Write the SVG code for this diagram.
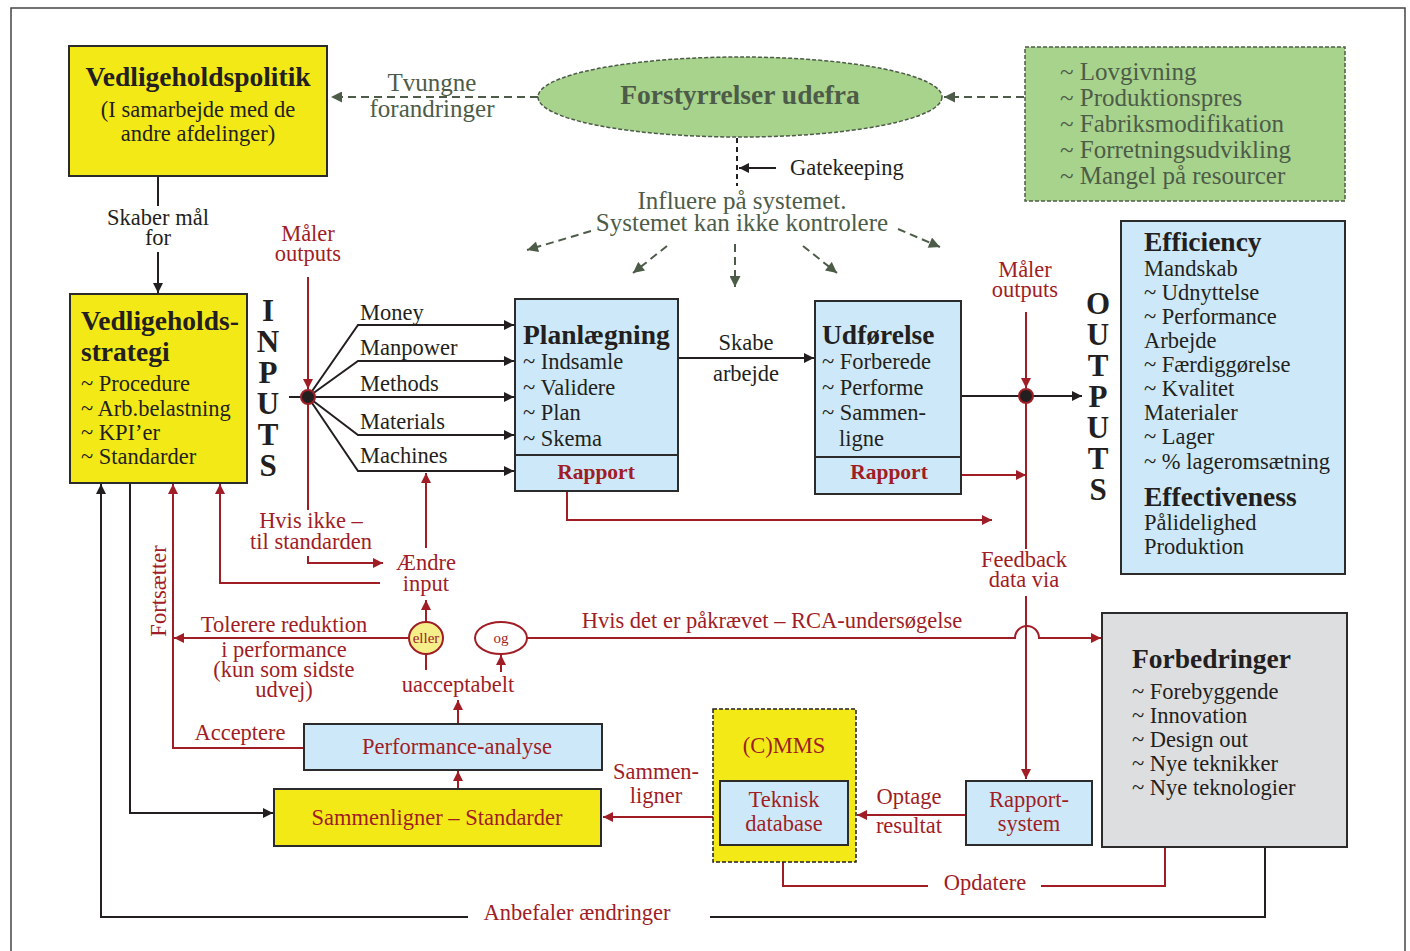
<svg xmlns="http://www.w3.org/2000/svg" width="1410" height="951" viewBox="0 0 1410 951">
<defs>
<style>
text{font-family:"Liberation Serif","Times New Roman",serif;}
.t{fill:#231f20;font-size:22.5px;}
.b{fill:#231f20;font-size:27.5px;font-weight:bold;}
.r{fill:#a01d26;font-size:22.5px;}
.rb{fill:#a01d26;font-size:21.5px;font-weight:bold;}
.g{fill:#4d5c48;font-size:25px;}
.big{fill:#231f20;font-size:31px;font-weight:bold;}
.c{text-anchor:middle;}
.bw{font-size:27.5px;font-weight:bold;}
.box{stroke:#2b2b2b;stroke-width:2;}
.yl{fill:#f2e916;}
.bl{fill:#cde9f9;}
.gr{fill:#a8d38d;}
.gy{fill:#dddee0;}
.ln{fill:none;stroke:#231f20;stroke-width:2;}
.rl{fill:none;stroke:#a01d26;stroke-width:2;}
.gl{fill:none;stroke:#4d5c48;stroke-width:2;stroke-dasharray:8 5;}
</style>
<marker id="ab" viewBox="0 0 10 10" refX="10" refY="5" markerWidth="11" markerHeight="10" markerUnits="userSpaceOnUse" orient="auto"><path d="M0,0 L10,5 L0,10 z" fill="#231f20"/></marker>
<marker id="ar" viewBox="0 0 10 10" refX="10" refY="5" markerWidth="11" markerHeight="10" markerUnits="userSpaceOnUse" orient="auto"><path d="M0,0 L10,5 L0,10 z" fill="#a01d26"/></marker>
<marker id="ag" viewBox="0 0 10 10" refX="10" refY="5" markerWidth="12" markerHeight="11" markerUnits="userSpaceOnUse" orient="auto"><path d="M0,0 L10,5 L0,10 z" fill="#4d5c48"/></marker>
</defs>
<rect width="1410" height="951" fill="#ffffff"/>
<path d="M11,960 V8 H1405 V960" fill="none" stroke="#444" stroke-width="1.5"/>

<g id="connectors">
<path class="gl" d="M538,97 H331" marker-end="url(#ag)"/>
<path class="gl" d="M1024,97 H944" marker-end="url(#ag)"/>
<path d="M737,138 V186" fill="none" stroke="#231f20" stroke-width="2" stroke-dasharray="5 4"/>
<path class="ln" d="M776,168 H739" marker-end="url(#ab)"/>
<path class="gl" d="M591,231 L527,250" marker-end="url(#ag)"/>
<path class="gl" d="M667,246 L633,273" marker-end="url(#ag)"/>
<path class="gl" d="M735,244 V287" marker-end="url(#ag)"/>
<path class="gl" d="M803,246 L837,273" marker-end="url(#ag)"/>
<path class="gl" d="M898,229 L940,247" marker-end="url(#ag)"/>
<path class="ln" d="M158,177 V206"/>
<path class="ln" d="M158,252 V293" marker-end="url(#ab)"/>
<path class="ln" d="M289,397 H301"/>
<path class="ln" d="M308,397 L358,325 H514" marker-end="url(#ab)"/>
<path class="ln" d="M308,397 L358,361 H514" marker-end="url(#ab)"/>
<path class="ln" d="M308,397 H514" marker-end="url(#ab)"/>
<path class="ln" d="M308,397 L358,435 H514" marker-end="url(#ab)"/>
<path class="ln" d="M308,397 L358,471 H514" marker-end="url(#ab)"/>
<path class="rl" d="M308,277 V389" marker-end="url(#ar)"/>
<path class="rl" d="M308,404 V510"/>
<path class="rl" d="M308,556 V563 H383" marker-end="url(#ar)"/>
<path class="rl" d="M380,583 H220 V484" marker-end="url(#ar)"/>
<path class="rl" d="M426,548 V473" marker-end="url(#ar)"/>
<path class="ln" d="M678,358 H814" marker-end="url(#ab)"/>
<path class="ln" d="M961,396 H1019"/>
<path class="ln" d="M1033,396 H1082" marker-end="url(#ab)"/>
<path class="rl" d="M1026,312 V388" marker-end="url(#ar)"/>
<path class="rl" d="M961,475 H1026" marker-end="url(#ar)"/>
<path class="rl" d="M567,491 V520 H992" marker-end="url(#ar)"/>
<path class="rl" d="M1026,403 V549"/>
<path class="rl" d="M1026,596 V779" marker-end="url(#ar)"/>
<path class="ln" d="M468,917 H101 V484" marker-end="url(#ab)"/>
<path class="ln" d="M710,917 H1265 V847"/>
<path class="ln" d="M130,483 V813 H273" marker-end="url(#ab)"/>
<path class="rl" d="M304,748 H173 V484" marker-end="url(#ar)"/>
<path class="rl" d="M410,638 H174" marker-end="url(#ar)"/>
<path class="rl" d="M426,621 V600" marker-end="url(#ar)"/>
<path class="rl" d="M426,655 V670"/>
<path class="rl" d="M501,672 V655" marker-end="url(#ar)"/>
<path class="rl" d="M458,723 V700" marker-end="url(#ar)"/>
<path class="rl" d="M458,789 V771" marker-end="url(#ar)"/>
<path class="rl" d="M527,638 H1015 A12,12 0 0 1 1039,638 H1101" marker-end="url(#ar)"/>
<path class="rl" d="M720,817 H603" marker-end="url(#ar)"/>
<path class="rl" d="M966,815 H857" marker-end="url(#ar)"/>
<path class="rl" d="M1165,847 V886 H1041"/>
<path class="rl" d="M928,886 H783 V847" marker-end="url(#ar)"/>
</g>

<g id="labels">
<text class="g c" x="432" y="91">Tvungne<tspan x="432" y="117">forandringer</tspan></text>
<text class="t" x="790" y="175">Gatekeeping</text>
<text class="g c" x="742" y="209">Influere på systemet.<tspan x="742" y="231">Systemet kan ikke kontrolere</tspan></text>
<text class="t c" x="158" y="225">Skaber mål<tspan x="158" y="245">for</tspan></text>
<text class="r c" x="308" y="241">Måler<tspan x="308" y="261">outputs</tspan></text>
<text class="r c" x="1025" y="277">Måler<tspan x="1025" y="297">outputs</tspan></text>
<text class="t" x="360" y="320">Money</text>
<text class="t" x="360" y="355">Manpower</text>
<text class="t" x="360" y="391">Methods</text>
<text class="t" x="360" y="429">Materials</text>
<text class="t" x="360" y="463">Machines</text>
<text class="t c" x="746" y="350">Skabe<tspan x="746" y="381">arbejde</tspan></text>
<text class="r c" x="311" y="528">Hvis ikke –<tspan x="311" y="549">til standarden</tspan></text>
<text class="r c" x="426" y="570">Ændre<tspan x="426" y="591">input</tspan></text>
<text class="r c" x="1024" y="567">Feedback<tspan x="1024" y="587">data via</tspan></text>
<text class="r c" transform="translate(166,591) rotate(-90)">Fortsætter</text>
<text class="r c" x="284" y="632">Tolerere reduktion<tspan x="284" y="657">i performance</tspan><tspan x="284" y="677">(kun som sidste</tspan><tspan x="284" y="697">udvej)</tspan></text>
<text class="r c" x="458" y="692">uacceptabelt</text>
<text class="r c" x="772" y="628">Hvis det er påkrævet – RCA-undersøgelse</text>
<text class="r c" x="240" y="740">Acceptere</text>
<text class="r c" x="656" y="779">Sammen-<tspan x="656" y="803">ligner</tspan></text>
<text class="r c" x="909" y="804">Optage<tspan x="909" y="833">resultat</tspan></text>
<text class="r c" x="985" y="890">Opdatere</text>
<text class="r c" x="577" y="920">Anbefaler ændringer</text>
<text class="big c" x="268" y="321">I<tspan x="268" dy="31">N</tspan><tspan x="268" dy="31">P</tspan><tspan x="268" dy="31">U</tspan><tspan x="268" dy="31">T</tspan><tspan x="268" dy="31">S</tspan></text>
<text class="big c" x="1098" y="314">O<tspan x="1098" dy="31">U</tspan><tspan x="1098" dy="31">T</tspan><tspan x="1098" dy="31">P</tspan><tspan x="1098" dy="31">U</tspan><tspan x="1098" dy="31">T</tspan><tspan x="1098" dy="31">S</tspan></text>
</g>

<g id="politik">
<rect class="box yl" x="69" y="46" width="258" height="130"/>
<text class="t c" x="198" y="86"><tspan class="bw">Vedligeholdspolitik</tspan><tspan x="198" y="117">(I samarbejde med de</tspan><tspan x="198" y="141">andre afdelinger)</tspan></text>
</g>

<g id="forstyrrelser">
<ellipse cx="740" cy="97" rx="202" ry="40" fill="#a8d38d" stroke="#4d5c48" stroke-width="1.5" stroke-dasharray="4 2"/>
<text class="c" x="740" y="104" style="font-size:27.5px;font-weight:bold;fill:#4d5c48">Forstyrrelser udefra</text>
</g>

<g id="pres">
<rect class="gr" x="1025" y="47" width="320" height="154" stroke="#4d5c48" stroke-width="1.5" stroke-dasharray="4 2"/>
<text class="g" x="1060" y="80">~ Lovgivning<tspan x="1060" y="106">~ Produktionspres</tspan><tspan x="1060" y="132">~ Fabriksmodifikation</tspan><tspan x="1060" y="158">~ Forretningsudvikling</tspan><tspan x="1060" y="184">~ Mangel på resourcer</tspan></text>
</g>

<g id="strategi">
<rect class="box yl" x="70" y="294" width="177" height="189"/>
<text class="t" x="81" y="330"><tspan class="bw">Vedligeholds-</tspan><tspan class="bw" x="81" y="361">strategi</tspan><tspan x="81" y="391">~ Procedure</tspan><tspan x="81" y="416">~ Arb.belastning</tspan><tspan x="81" y="440">~ KPI’er</tspan><tspan x="81" y="464">~ Standarder</tspan></text>
</g>

<g id="inputnode"><circle cx="308" cy="397" r="7" fill="#231f20" stroke="#a01d26" stroke-width="2"/></g>

<g id="planlaegning">
<rect class="box bl" x="515" y="299" width="163" height="192"/>
<line x1="515" y1="455" x2="678" y2="455" stroke="#2b2b2b" stroke-width="2"/>
<text class="t" x="523" y="344"><tspan class="bw">Planlægning</tspan><tspan x="523" y="369">~ Indsamle</tspan><tspan x="523" y="395">~ Validere</tspan><tspan x="523" y="420">~ Plan</tspan><tspan x="523" y="446">~ Skema</tspan></text>
<text class="rb c" x="596" y="479">Rapport</text>
</g>

<g id="udfoerelse">
<rect class="box bl" x="815" y="301" width="146" height="193"/>
<line x1="815" y1="457" x2="961" y2="457" stroke="#2b2b2b" stroke-width="2"/>
<text class="t" x="822" y="344"><tspan class="bw">Udførelse</tspan><tspan x="822" y="369">~ Forberede</tspan><tspan x="822" y="395">~ Performe</tspan><tspan x="822" y="420">~ Sammen-</tspan><tspan x="839" y="446">ligne</tspan></text>
<text class="rb c" x="889" y="479">Rapport</text>
</g>

<g id="outputnode"><circle cx="1026" cy="396" r="7" fill="#231f20" stroke="#a01d26" stroke-width="2"/></g>

<g id="outputs">
<rect class="box bl" x="1121" y="221" width="224" height="353"/>
<text class="t" x="1144" y="251"><tspan class="bw">Efficiency</tspan><tspan x="1144" y="276">Mandskab</tspan><tspan x="1144" y="300">~ Udnyttelse</tspan><tspan x="1144" y="324">~ Performance</tspan><tspan x="1144" y="348">Arbejde</tspan><tspan x="1144" y="372">~ Færdiggørelse</tspan><tspan x="1144" y="396">~ Kvalitet</tspan><tspan x="1144" y="420">Materialer</tspan><tspan x="1144" y="444">~ Lager</tspan><tspan x="1144" y="469">~ % lageromsætning</tspan><tspan class="bw" x="1144" y="506">Effectiveness</tspan><tspan x="1144" y="530">Pålidelighed</tspan><tspan x="1144" y="554">Produktion</tspan></text>
</g>

<g id="eller">
<ellipse cx="426" cy="638" rx="17" ry="16" fill="#f5ef8a" stroke="#a01d26" stroke-width="2"/>
<text class="c" x="426" y="643" style="font-size:15px;fill:#a01d26">eller</text>
</g>
<g id="og">
<ellipse cx="501" cy="638" rx="26" ry="16" fill="#ffffff" stroke="#a01d26" stroke-width="2"/>
<text class="c" x="501" y="643" style="font-size:15px;fill:#a01d26">og</text>
</g>

<g id="forbedringer">
<rect class="box gy" x="1102" y="613" width="245" height="234"/>
<text class="t" x="1132" y="668"><tspan class="bw">Forbedringer</tspan><tspan x="1132" y="699">~ Forebyggende</tspan><tspan x="1132" y="723">~ Innovation</tspan><tspan x="1132" y="747">~ Design out</tspan><tspan x="1132" y="771">~ Nye teknikker</tspan><tspan x="1132" y="795">~ Nye teknologier</tspan></text>
</g>

<g id="performance">
<rect class="box bl" x="304" y="724" width="298" height="46"/>
<text class="r c" x="457" y="754">Performance-analyse</text>
</g>

<g id="sammenligner">
<rect class="box yl" x="274" y="789" width="327" height="57"/>
<text class="r c" x="437" y="825">Sammenligner – Standarder</text>
</g>

<g id="cmms">
<rect class="yl" x="713" y="709" width="143" height="153" stroke="#231f20" stroke-width="1.5" stroke-dasharray="4 2"/>
<text class="r c" x="784" y="753">(C)MMS</text>
</g>

<g id="teknisk">
<rect class="box bl" x="720" y="781" width="128" height="64"/>
<text class="r c" x="784" y="807">Teknisk<tspan x="784" y="831">database</tspan></text>
</g>

<g id="rapportsystem">
<rect class="box bl" x="966" y="781" width="126" height="64"/>
<text class="r c" x="1029" y="807">Rapport-<tspan x="1029" y="831">system</tspan></text>
</g>
</svg>
